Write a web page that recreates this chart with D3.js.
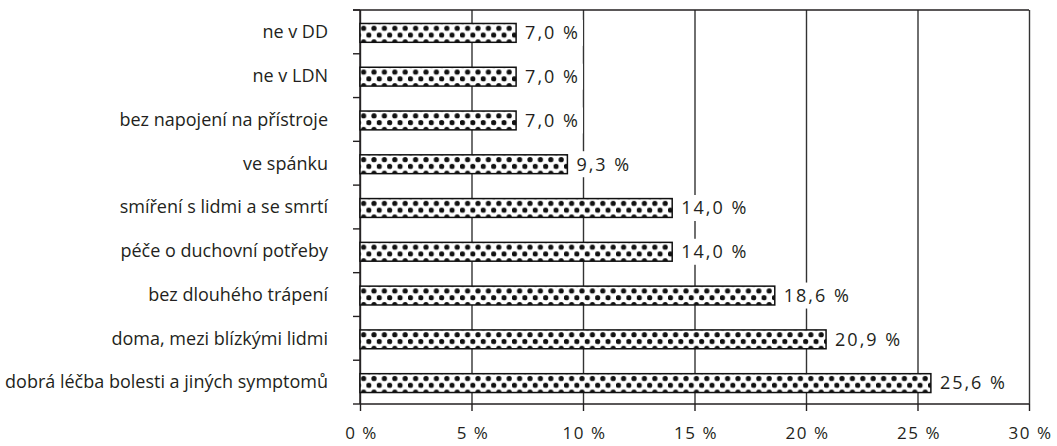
<!DOCTYPE html>
<html>
<head>
<meta charset="utf-8">
<script src="https://cdn.jsdelivr.net/npm/d3@7"></script>
<style>
  html, body { margin: 0; padding: 0; background: #fff; }
  svg { display: block; }
  text { font-family: "Open Sans", "Noto Sans", sans-serif; fill: #231f20; }
</style>
</head>
<body>
<svg id="chart" width="1057" height="446"></svg>
<script>
// Categories (top to bottom) and their shares in percent
const categories = [
  "ne v DD",
  "ne v LDN",
  "bez napojení na přístroje",
  "ve spánku",
  "smíření s lidmi a se smrtí",
  "péče o duchovní potřeby",
  "bez dlouhého trápení",
  "doma, mezi blízkými lidmi",
  "dobrá léčba bolesti a jiných symptomů"
];
const values = [7.0, 7.0, 7.0, 9.3, 14.0, 14.0, 18.6, 20.9, 25.6];
const xTicks = [0, 5, 10, 15, 20, 25, 30];

const svg = d3.select("#chart");
const margin = { top: 10, right: 28, bottom: 42, left: 360 };
const width = 1057 - margin.left - margin.right;
const height = 446 - margin.top - margin.bottom;
const ink = "#231f20";

const cs = d3.formatLocale({ decimal: ",", thousands: " ", grouping: [3], currency: ["", " Kč"] });
const fmt1 = cs.format(".1f");

const x = d3.scaleLinear().domain([0, 30]).range([0, width]);
const y = d3.scaleBand().domain(categories).range([0, height]).paddingInner(0.57).paddingOuter(0.285);

const g = svg.append("g").attr("transform", `translate(${margin.left},${margin.top})`);
const defs = svg.append("defs");

// Vertical gridlines with ticks hanging below the plot
const xAxis = g.append("g")
  .attr("transform", `translate(0,${height})`)
  .call(d3.axisBottom(x).tickValues(xTicks).tickSize(-height).tickSizeOuter(0)
    .tickFormat(d => d + " %"));
xAxis.select(".domain").remove();
xAxis.selectAll(".tick line").attr("stroke", "#333").attr("stroke-width", 1.4);
xAxis.selectAll(".tick").append("line")
  .attr("y1", 0).attr("y2", 7).attr("stroke", ink).attr("stroke-width", 1.4);
xAxis.selectAll(".tick text")
  .attr("x", 1)
  .attr("y", 23).attr("dy", "0.71em")
  .style("font-size", "17px").style("letter-spacing", "1.5px").attr("fill", ink);

// Frame: top border
g.append("line").attr("x1", -7).attr("x2", width).attr("y1", 0).attr("y2", 0)
  .attr("stroke", ink).attr("stroke-width", 1.4);
// bottom baseline
g.append("line").attr("x1", 0).attr("x2", width).attr("y1", height).attr("y2", height)
  .attr("stroke", ink).attr("stroke-width", 1.5);

// Category axis: ticks at band boundaries
const step = y.step();
const yAxis = g.append("g");
yAxis.append("line").attr("x1", 0).attr("x2", 0).attr("y1", 0).attr("y2", height)
  .attr("stroke", ink).attr("stroke-width", 1.5);
yAxis.selectAll("line.bound")
  .data(d3.range(categories.length + 1))
  .join("line")
  .attr("class", "bound")
  .attr("x1", -7).attr("x2", 0)
  .attr("y1", i => i * step).attr("y2", i => i * step)
  .attr("stroke", ink).attr("stroke-width", 1.4);
yAxis.selectAll("text")
  .data(categories)
  .join("text")
  .attr("x", -32)
  .attr("y", d => y(d) + y.bandwidth() / 2)
  .attr("dy", "0.35em")
  .attr("text-anchor", "end")
  .style("font-size", "18px")
  .text(d => d);

// Dotted fill, one pattern per bar so the dots line up with each bar's edge
const rows = categories.map((c, i) => ({ cat: c, value: values[i], i }));
const pw = 10.4, ph = 13.6, dr = 2.6;
rows.forEach(r => {
  const p = defs.append("pattern")
    .attr("id", "dots" + r.i)
    .attr("patternUnits", "userSpaceOnUse")
    .attr("x", margin.left).attr("y", margin.top + y(r.cat) + 1)
    .attr("width", pw).attr("height", ph);
  p.append("rect").attr("width", pw).attr("height", ph).attr("fill", "#fff");
  [[2.4, 1.6], [2.4, 1.6 + ph], [2.4 + pw / 2, 1.6 + ph / 2], [2.4 + pw / 2 - pw, 1.6 + ph / 2]]
    .forEach(([cx, cy]) => p.append("circle").attr("cx", cx).attr("cy", cy).attr("r", dr).attr("fill", "#111"));
});

g.selectAll("rect.bar")
  .data(rows)
  .join("rect")
  .attr("class", "bar")
  .attr("x", 0)
  .attr("y", d => y(d.cat) + 1)
  .attr("width", d => x(d.value))
  .attr("height", y.bandwidth())
  .attr("fill", d => `url(#dots${d.i})`)
  .attr("stroke", "#111")
  .attr("stroke-width", 1.5);

// Value labels on a white backing that interrupts the gridlines
const lab = g.selectAll("g.lab")
  .data(rows)
  .join("g")
  .attr("class", "lab")
  .attr("transform", d => `translate(${x(d.value) + 9},${y(d.cat) + 1 + y.bandwidth() / 2})`);
lab.append("rect").attr("fill", "#fff");
lab.append("text")
  .attr("dy", "0.35em")
  .style("font-size", "18px")
  .style("letter-spacing", "2px")
  .text(d => fmt1(d.value) + " %");
lab.each(function () {
  const t = d3.select(this).select("text").node().getBBox();
  d3.select(this).select("rect")
    .attr("x", t.x - 3).attr("y", -13)
    .attr("width", t.width + 6).attr("height", 26);
});
</script>
</body>
</html>
